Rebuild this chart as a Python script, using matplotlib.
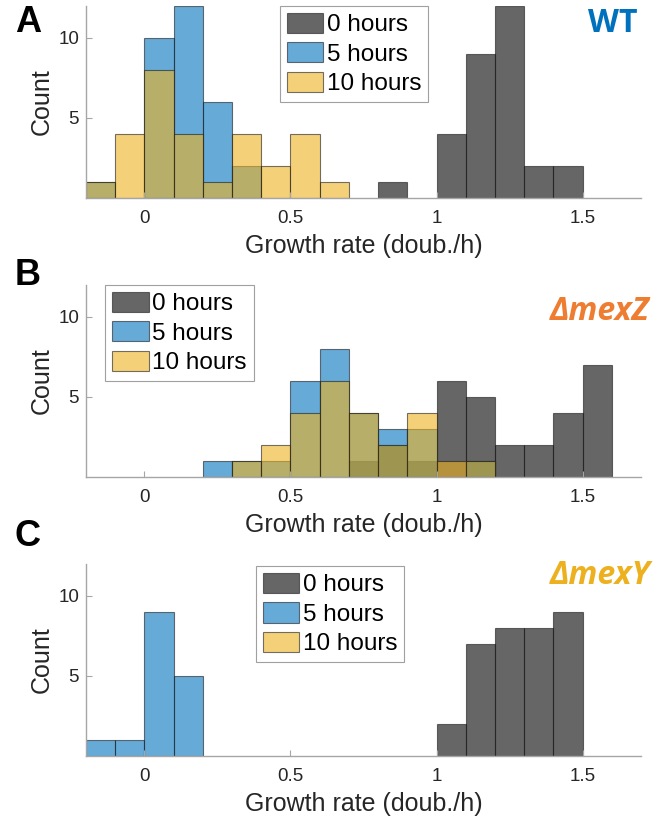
import matplotlib
matplotlib.use("Agg")
from matplotlib import pyplot as plt
import numpy as np

# bin edges (doublings per hour), 0.1 wide
edges = np.round(np.arange(-0.2, 1.61, 0.1), 2)

# counts per bin, panel A (WT)
wt_0h = [0, 0, 0, 0, 0, 0, 0, 0, 0, 0, 1, 0, 4, 9, 12, 2, 2, 0]
wt_5h = [1, 0, 10, 12, 6, 2, 0, 0, 0, 0, 0, 0, 0, 0, 0, 0, 0, 0]
wt_10h = [1, 4, 8, 4, 1, 4, 2, 4, 1, 0, 0, 0, 0, 0, 0, 0, 0, 0]

# panel B (mexZ deletion)
mexz_0h = [0, 0, 0, 0, 0, 0, 0, 0, 0, 1, 2, 1, 6, 5, 2, 2, 4, 7]
mexz_5h = [0, 0, 0, 0, 1, 1, 1, 6, 8, 4, 3, 3, 0, 1, 0, 0, 0, 0]
mexz_10h = [0, 0, 0, 0, 0, 1, 2, 4, 6, 4, 2, 4, 1, 1, 0, 0, 0, 0]

# panel C (mexY deletion)
mexy_0h = [0, 0, 0, 0, 0, 0, 0, 0, 0, 0, 0, 0, 2, 7, 8, 8, 9, 0]
mexy_5h = [1, 1, 9, 5, 0, 0, 0, 0, 0, 0, 0, 0, 0, 0, 0, 0, 0, 0]
mexy_10h = [0] * 18

labels = ['0 hours', '5 hours', '10 hours']
colors = ['#000000', '#0072BD', '#EDB120']
xticks = [0, 0.5, 1, 1.5]
xticklabels = ['0', '0.5', '1', '1.5']

panels = [
    ('A', 'WT', '#0072BD', [wt_0h, wt_5h, wt_10h]),
    ('B', '\u0394mexZ', '#EE7D31', [mexz_0h, mexz_5h, mexz_10h]),
    ('C', '\u0394mexY', '#EDB120', [mexy_0h, mexy_5h, mexy_10h]),
]

plt.rcParams['font.family'] = ['Liberation Sans', 'DejaVu Sans']

W, H = 654, 818
fig = plt.figure(figsize=(W / 100, H / 100), dpi=100)

# pixel layout
ax_left, ax_right = 86, 641
ax_h = 192
tops = [5.7, 284.7, 563.7]
leg_x = [0.3495, 0.035, 0.306]
leg_y = [1.0, 1.0, 0.988]
letter_y = [22, 275.5, 536.5]
title_y = [23.5, 312, 575.5]
title_right = [638, 650, 650]

gray = '#a6a6a6'
txt = '#262626'

for k, (letter, title, tcol, series) in enumerate(panels):
    ax = fig.add_axes([ax_left / W, (H - tops[k] - ax_h) / H,
                       (ax_right - ax_left) / W, ax_h / H])
    handles = []
    for counts, c, lab in zip(series, colors, labels):
        counts = np.array(counts)
        m = counts > 0
        ax.bar(edges[:-1][m], counts[m], width=0.1, align='edge',
               color=c, alpha=0.6, edgecolor='#1a1a1a', linewidth=0.8,
               label=lab)
        handles.append(plt.Rectangle((0, 0), 1, 1, facecolor=c, alpha=0.6,
                                     edgecolor='#1a1a1a', linewidth=0.8))
    ax.set_xlim(-0.2, 1.7)
    ax.set_ylim(0, 12)
    ax.set_xticks(xticks)
    ax.set_xticklabels(xticklabels)
    ax.set_yticks([5, 10])
    for s in ['top', 'right']:
        ax.spines[s].set_visible(False)
    for s in ['left', 'bottom']:
        ax.spines[s].set_color(gray)
        ax.spines[s].set_linewidth(1.0)
    ax.tick_params(direction='in', length=4, width=0.8, color=gray,
                   labelsize=13.5, labelcolor=txt)
    ax.tick_params(axis='x', pad=9)
    ax.tick_params(axis='y', pad=5)
    ax.set_xlabel('Growth rate (doub./h)', fontsize=18, color=txt, labelpad=5)
    ax.set_ylabel('Count', fontsize=18, color=txt, labelpad=3)
    leg = ax.legend(handles, labels, loc='upper left',
                    bbox_to_anchor=(leg_x[k], leg_y[k]), fontsize=17.5,
                    fancybox=False, framealpha=1, edgecolor='#a0a0a0',
                    handlelength=1.5, handleheight=0.9, handletextpad=0.15,
                    labelspacing=0.25, borderpad=0.28, borderaxespad=0)
    leg.get_frame().set_linewidth(0.8)

    fig.text(28 / W, 1 - letter_y[k] / H, letter, fontsize=26,
             fontweight='bold', ha='center', va='center', color='black')
    fig.text(title_right[k] / W, 1 - title_y[k] / H, title, fontsize=23,
             fontweight='bold', style='italic' if k > 0 else 'normal',
             ha='right', va='center', color=tcol,
             family=['Open Sans', 'DejaVu Sans'])

fig.savefig('out.png', dpi=100)
